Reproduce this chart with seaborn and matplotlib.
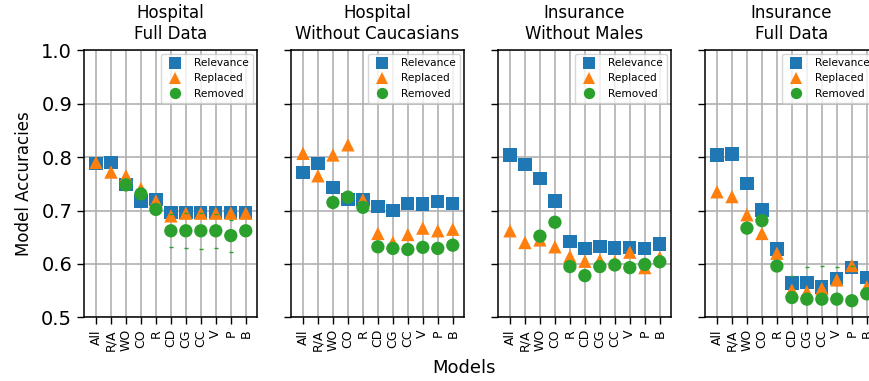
import numpy as np
import pandas as pd
import matplotlib
matplotlib.use("Agg")
import matplotlib.pyplot as plt
import seaborn as sns

# ---- data -------------------------------------------------------------
models = ["All", "R/A", "WO", "CO", "R", "CD", "CG", "CC", "V", "P", "B"]
methods = ["Relevance", "Replaced", "Removed"]
panel_titles = [
    "Hospital\nFull Data",
    "Hospital\nWithout Caucasians",
    "Insurance\nWithout Males",
    "Insurance\nFull Data",
]
nan = np.nan

hosp_full_relevance = [0.788, 0.790, 0.749, 0.718, 0.720, 0.696, 0.696, 0.696, 0.696, 0.696, 0.696]
hosp_full_replaced = [0.790, 0.772, 0.765, 0.741, 0.718, 0.690, 0.695, 0.695, 0.695, 0.695, 0.695]
hosp_full_removed = [nan, nan, 0.748, 0.731, 0.702, 0.662, 0.662, 0.662, 0.662, 0.653, 0.662]
hosp_full_removed_err = [nan, nan, nan, nan, nan, 0.031, 0.033, 0.034, 0.032, 0.030, nan]

hosp_nocauc_relevance = [0.771, 0.788, 0.743, 0.721, 0.721, 0.707, 0.700, 0.713, 0.712, 0.717, 0.713]
hosp_nocauc_replaced = [0.807, 0.765, 0.804, 0.823, 0.720, 0.657, 0.640, 0.655, 0.667, 0.662, 0.665]
hosp_nocauc_removed = [nan, nan, 0.715, 0.725, 0.706, 0.632, 0.629, 0.627, 0.631, 0.629, 0.635]
hosp_nocauc_removed_err = [nan] * 11

ins_nomale_relevance = [0.804, 0.786, 0.760, 0.718, 0.642, 0.629, 0.632, 0.630, 0.631, 0.629, 0.637]
ins_nomale_replaced = [0.662, 0.640, 0.645, 0.632, 0.614, 0.605, 0.607, 0.604, 0.622, 0.593, 0.612]
ins_nomale_removed = [nan, nan, 0.652, 0.678, 0.595, 0.578, 0.595, 0.598, 0.593, 0.599, 0.604]
ins_nomale_removed_err = [nan] * 11

ins_full_relevance = [0.804, 0.806, 0.751, 0.701, 0.628, 0.564, 0.565, 0.557, 0.573, 0.593, 0.574]
ins_full_replaced = [0.735, 0.726, 0.692, 0.657, 0.620, 0.551, 0.548, 0.554, 0.570, 0.597, 0.557]
ins_full_removed = [nan, nan, 0.667, 0.681, 0.596, 0.537, 0.534, 0.534, 0.534, 0.531, 0.544]
ins_full_removed_err = [nan, nan, nan, nan, nan, 0.041, 0.061, 0.063, 0.060, 0.066, nan]

panels = [
    (hosp_full_relevance, hosp_full_replaced, hosp_full_removed, hosp_full_removed_err),
    (hosp_nocauc_relevance, hosp_nocauc_replaced, hosp_nocauc_removed, hosp_nocauc_removed_err),
    (ins_nomale_relevance, ins_nomale_replaced, ins_nomale_removed, ins_nomale_removed_err),
    (ins_full_relevance, ins_full_replaced, ins_full_removed, ins_full_removed_err),
]

# ---- style ------------------------------------------------------------
sns.set_style("ticks", {
    "axes.grid": True,
    "grid.color": "#b0b0b0",
    "axes.edgecolor": "black",
    "xtick.color": "black",
    "ytick.color": "black",
    "text.color": "black",
    "axes.labelcolor": "black",
    "xtick.direction": "out",
    "ytick.direction": "out",
})
plt.rcParams["font.family"] = ["DejaVu Sans"]
plt.rcParams["grid.linewidth"] = 1.2
plt.rcParams["axes.linewidth"] = 1.1

palette = dict(zip(methods, ["#1f77b4", "#ff7f0e", "#2ca02c"]))
marker_map = {"Relevance": "s", "Replaced": "^", "Removed": "o"}

W, H = 870, 381
fig = plt.figure(figsize=(W / 100, H / 100), dpi=100)

ax_left_px = [84, 291, 498, 705]
ax_w_px = 173
ax_bottom_px, ax_top_px = 317.3, 50.3

axes = []
for i, (rel, rep, rem, rem_err) in enumerate(panels):
    ax = fig.add_axes([ax_left_px[i] / W, 1 - ax_bottom_px / H,
                       ax_w_px / W, (ax_bottom_px - ax_top_px) / H])
    axes.append(ax)
    df = pd.DataFrame({
        "model": models * 3,
        "method": [m for m in methods for _ in models],
        "accuracy": list(rel) + list(rep) + list(rem),
    }).dropna()
    sns.scatterplot(data=df, x="model", y="accuracy", hue="method", style="method",
                    hue_order=methods, style_order=methods, palette=palette,
                    markers=marker_map, s=92, linewidth=0, ax=ax, zorder=3)

    # spread of the "Removed" runs, shown as caps only
    err = np.asarray(rem_err, dtype=float)
    ok = ~np.isnan(err)
    pos = np.arange(len(models))
    ax.errorbar(pos[ok], np.asarray(rem)[ok], yerr=err[ok], fmt="none",
                ecolor=palette["Removed"], elinewidth=0, capsize=1.6,
                capthick=1.0, zorder=3.5)

    leg = ax.get_legend()
    handles = leg.legend_handles
    labels = [t.get_text() for t in leg.get_texts()]
    leg.remove()
    ax.legend(handles, labels, loc="upper right", fontsize=7.6, markerscale=0.85,
              frameon=True, framealpha=0.8, edgecolor="0.8", fancybox=True,
              borderaxespad=0.35)

    ax.set_xlim(-0.8, len(models) - 0.25)
    ax.set_ylim(0.5, 1.0)
    ax.set_yticks([0.5, 0.6, 0.7, 0.8, 0.9, 1.0])
    ax.set_xticks(range(len(models)))
    ax.set_xticklabels(models, rotation=90, fontsize=9)
    ax.tick_params(axis="both", length=5, width=1.0)
    ax.tick_params(axis="y", labelsize=14)
    ax.set_xlabel("")
    ax.set_title(panel_titles[i], fontsize=12, pad=8)
    for sp in ax.spines.values():
        sp.set_visible(True)
        sp.set_color("black")
    ax.set_axisbelow(True)
    if i == 0:
        ax.set_ylabel("Model Accuracies", fontsize=12, labelpad=6)
    else:
        ax.set_ylabel("")
        ax.tick_params(axis="y", labelleft=False)

fig.text(464 / W, 1 - 368 / H, "Models", ha="center", va="center", fontsize=13)

fig.savefig("out.png", dpi=100)
